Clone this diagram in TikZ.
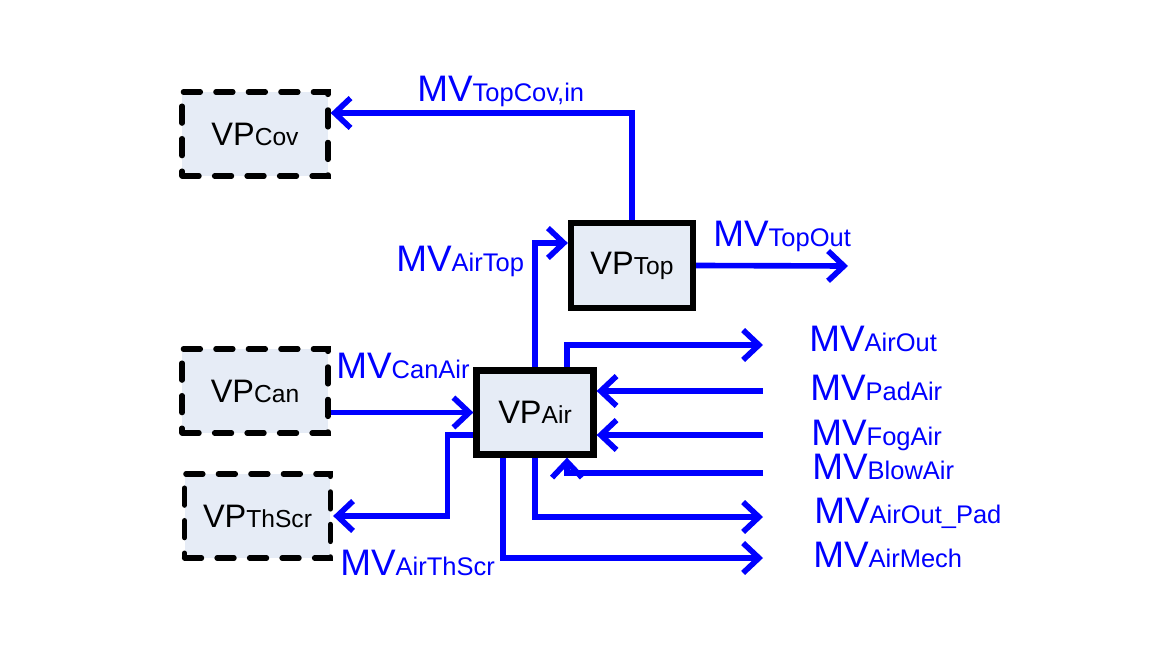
\documentclass[tikz,border=0pt]{standalone}
\usepackage{fontspec}
\setmainfont{Liberation Sans}
\usepackage{tikz}
\usetikzlibrary{arrows.meta, positioning}
\usepackage{xcolor}
\definecolor{boxfill}{RGB}{230,236,246}
\definecolor{flowblue}{RGB}{0,0,255}
\newcommand{\vpname}[1]{{\fontsize{18.5}{20}\selectfont VP}{\fontsize{14}{15}\selectfont #1}}
\newcommand{\mvname}[1]{{\fontsize{21}{22}\selectfont MV}{\fontsize{14.5}{16}\selectfont #1}}

\begin{document}
\begin{tikzpicture}[x=0.02cm, y=-0.02cm, >={Straight Barb[length=9pt,width=17pt]},
    ext/.style={draw, line width=3pt, dash pattern=on 9.7pt off 8.8pt, line cap=round, fill=boxfill,
      minimum width=2.92cm, minimum height=1.68cm, inner sep=0pt},
    state/.style={draw, line width=3.6pt, fill=boxfill, inner sep=0pt},
    flow/.style={->, flowblue, line width=3.2pt},
    lab/.style={flowblue, anchor=base west, inner sep=0pt}]
    \useasboundingbox (0,0) rectangle (1152,648);
    \node[ext] (cov) at (255,134) {\vpname{Cov}};
    \node[ext] (can) at (255,391) {\vpname{Can}};
    \node[ext] (thscr) at (257.5,516) {\vpname{ThScr}};
    \node[state, minimum width=2.44cm, minimum height=1.7cm] (top) at (632,265.5) {\vpname{Top}};
    \node[state, minimum width=2.34cm, minimum height=1.68cm] (air) at (535,412.5) {\vpname{Air}};
    % free ends on the right
    \coordinate (topout) at (848,266);
    \coordinate (airout) at (763,345);
    \coordinate (padair) at (763,391);
    \coordinate (fogair) at (763,435);
    \coordinate (blowair) at (763,473);
    \coordinate (outpad) at (763,517);
    \coordinate (mech) at (763,558);
    \draw[flow] (top.north) |- ([yshift=0.42cm]cov.east);
    \draw[flow] (air.north) |- ([yshift=0.45cm]top.west);
    \draw[flow] (top.east) -- (topout);
    \draw[flow] (air.west -| can.east) -- (air.west);
    \draw[flow] ([yshift=-0.45cm]air.west) -- ++(-26,0) |- (thscr.east);
    \draw[flow] ([xshift=0.64cm]air.north) |- (airout);
    \foreach \x in {padair,fogair} \draw[flow] (\x) -- (air.east |- \x);
    \draw[flow] (blowair) -| ([xshift=0.64cm]air.south);
    \draw[flow] (air.south) |- (outpad);
    \draw[flow] ([xshift=-0.64cm]air.south) |- (mech);
    % flow labels
    \node[lab] (ltopcov) at (417,102) {\mvname{TopCov,in}};
    \node[lab] (ltopout) at (713,247) {\mvname{TopOut}};
    \node[lab] (lairtop) at (396,272) {\mvname{AirTop}};
    \node[lab] (lcanair) at (336,378) {\mvname{CanAir}};
    \node[lab] (lthscr) at (340,575) {\mvname{AirThScr}};
    \node[lab] (lairout) at (809,352) {\mvname{AirOut}};
    \node[lab] (lpadair) at (810,400) {\mvname{PadAir}};
    \node[lab] (lfogair) at (811,445) {\mvname{FogAir}};
    \node[lab] (lblowair) at (812,479) {\mvname{BlowAir}};
    \node[lab] (loutpad) at (814,523) {\mvname{AirOut\_Pad}};
    \node[lab] (lmech) at (813,567) {\mvname{AirMech}};
\end{tikzpicture}
\end{document}
